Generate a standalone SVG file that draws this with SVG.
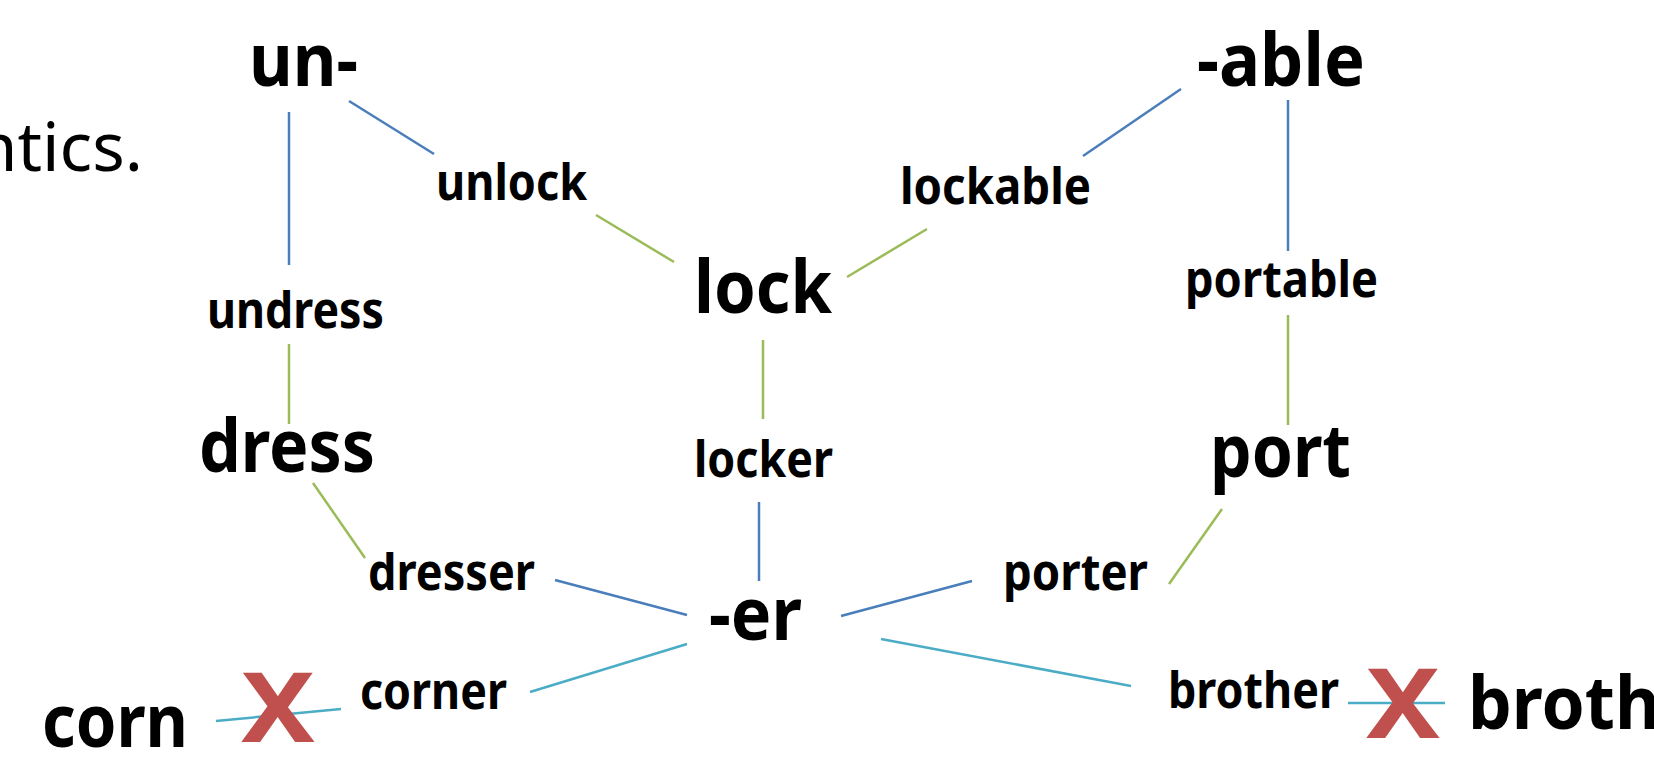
<svg xmlns="http://www.w3.org/2000/svg" width="1654" height="758" viewBox="0 0 1654 758">
<style>
.big{font-family:"Noto Sans","Open Sans",sans-serif;font-weight:bold;font-size:74px;fill:#000}
.sm{font-family:"Noto Sans","Open Sans",sans-serif;font-weight:bold;font-size:50px;fill:#000}
.reg{font-family:"Noto Sans","Open Sans",sans-serif;font-size:68px;fill:#000}
.x{font-family:"Noto Sans","Liberation Sans",sans-serif;font-weight:bold;font-size:96px;fill:#C0504D}
.b{stroke:#4A7EBB;stroke-width:2.5;fill:none}
.g{stroke:#9BBB59;stroke-width:2.5;fill:none}
.c{stroke:#4BACC6;stroke-width:2.5;fill:none}
</style>
<rect width="1654" height="758" fill="#fff"/>
<text class="reg" x="143" y="171" text-anchor="end">ntics.</text>
<g id="connectors">
<line class="b" x1="349" y1="101" x2="434" y2="154"/>
<line class="b" x1="289" y1="112" x2="289" y2="265"/>
<line class="g" x1="596" y1="215" x2="674" y2="262"/>
<line class="g" x1="927" y1="229" x2="847" y2="277"/>
<line class="b" x1="1181" y1="89" x2="1083" y2="156"/>
<line class="b" x1="1288" y1="100" x2="1288" y2="251"/>
<line class="g" x1="1288" y1="315" x2="1288" y2="425"/>
<line class="g" x1="289" y1="344" x2="289" y2="424"/>
<line class="g" x1="313" y1="483" x2="365" y2="558"/>
<line class="g" x1="763" y1="340" x2="763" y2="419"/>
<line class="b" x1="759" y1="502" x2="759" y2="581"/>
<line class="g" x1="1222" y1="509" x2="1169" y2="584"/>
<line class="b" x1="555" y1="580" x2="687" y2="615"/>
<line class="b" x1="972" y1="581" x2="841" y2="616"/>
<line class="c" x1="530" y1="692" x2="687" y2="644"/>
<line class="c" x1="881" y1="639" x2="1131" y2="686"/>
<line class="c" x1="216" y1="721" x2="341" y2="709"/>
<line class="c" x1="1348" y1="703" x2="1445" y2="703"/>
</g>
<g id="n-un"><text class="big" x="249" y="86" textLength="109" lengthAdjust="spacingAndGlyphs">un-</text></g>
<g id="n-able"><text class="big" x="1197" y="86" textLength="168" lengthAdjust="spacingAndGlyphs">-able</text></g>
<g id="n-lock"><text class="big" x="694" y="313" textLength="138" lengthAdjust="spacingAndGlyphs">lock</text></g>
<g id="n-dress"><text class="big" x="199" y="472" textLength="176" lengthAdjust="spacingAndGlyphs">dress</text></g>
<g id="n-port"><text class="big" x="1210" y="477" textLength="141" lengthAdjust="spacingAndGlyphs">port</text></g>
<g id="n-er"><text class="big" x="709" y="640" textLength="93" lengthAdjust="spacingAndGlyphs">-er</text></g>
<g id="n-corn"><text class="big" x="42" y="747" textLength="146" lengthAdjust="spacingAndGlyphs">corn</text></g>
<g id="n-broth"><text class="big" x="1468" y="729" textLength="192" lengthAdjust="spacingAndGlyphs">broth</text></g>
<g id="n-unlock"><text class="sm" x="436" y="200" textLength="151" lengthAdjust="spacingAndGlyphs">unlock</text></g>
<g id="n-lockable"><text class="sm" x="900" y="204" textLength="191" lengthAdjust="spacingAndGlyphs">lockable</text></g>
<g id="n-undress"><text class="sm" x="207" y="328" textLength="177" lengthAdjust="spacingAndGlyphs">undress</text></g>
<g id="n-portable"><text class="sm" x="1185" y="297" textLength="193" lengthAdjust="spacingAndGlyphs">portable</text></g>
<g id="n-locker"><text class="sm" x="694" y="477" textLength="139" lengthAdjust="spacingAndGlyphs">locker</text></g>
<g id="n-dresser"><text class="sm" x="368" y="590" textLength="167" lengthAdjust="spacingAndGlyphs">dresser</text></g>
<g id="n-porter"><text class="sm" x="1003" y="590" textLength="145" lengthAdjust="spacingAndGlyphs">porter</text></g>
<g id="n-corner"><text class="sm" x="360" y="709" textLength="147" lengthAdjust="spacingAndGlyphs">corner</text></g>
<g id="n-brother"><text class="sm" x="1168" y="708" textLength="171" lengthAdjust="spacingAndGlyphs">brother</text></g>
<g id="x1"><text class="x" x="241" y="742" textLength="74" lengthAdjust="spacingAndGlyphs">X</text></g>
<g id="x2"><text class="x" x="1366" y="738" textLength="74" lengthAdjust="spacingAndGlyphs">X</text></g>
</svg>
